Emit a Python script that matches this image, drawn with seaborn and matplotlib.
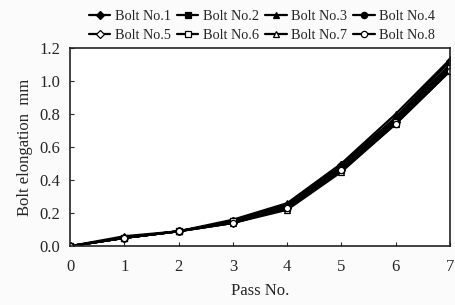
import matplotlib
matplotlib.use("Agg")
import matplotlib.pyplot as plt
import seaborn as sns
import pandas as pd

passes = [0, 1, 2, 3, 4, 5, 6, 7]
bolt1 = [0.0, 0.05, 0.09, 0.15, 0.25, 0.49, 0.78, 1.12]
bolt2 = [0.0, 0.05, 0.09, 0.15, 0.24, 0.48, 0.77, 1.10]
bolt3 = [0.0, 0.06, 0.09, 0.16, 0.26, 0.50, 0.80, 1.13]
bolt4 = [0.0, 0.05, 0.09, 0.15, 0.24, 0.47, 0.76, 1.09]
bolt5 = [0.0, 0.05, 0.09, 0.14, 0.23, 0.46, 0.75, 1.07]
bolt6 = [0.0, 0.05, 0.09, 0.15, 0.23, 0.46, 0.75, 1.08]
bolt7 = [0.0, 0.05, 0.09, 0.14, 0.22, 0.45, 0.74, 1.06]
bolt8 = [0.0, 0.05, 0.09, 0.14, 0.23, 0.46, 0.74, 1.06]
names = ["Bolt No.1", "Bolt No.2", "Bolt No.3", "Bolt No.4",
         "Bolt No.5", "Bolt No.6", "Bolt No.7", "Bolt No.8"]
series = [bolt1, bolt2, bolt3, bolt4, bolt5, bolt6, bolt7, bolt8]

sns.set_style("ticks")
plt.rcParams['font.family'] = ['Liberation Serif', 'DejaVu Serif']

fig = plt.figure(figsize=(4.55, 3.05), dpi=100)
fig.patch.set_facecolor("#fbfbfb")
ax = fig.add_axes([0.154, 0.193, 0.835, 0.65])
ax.set_facecolor("white")

markers = ["D", "s", "^", "o", "D", "s", "^", "o"]
fills = ["black"] * 4 + ["white"] * 4
sizes = [4.5, 4.5, 5, 4.5, 4.5, 4.5, 5, 4.5]

for name, vals, m, fc, ms in zip(names, series, markers, fills, sizes):
    df = pd.DataFrame({"Pass": passes, "Elong": vals})
    sns.lineplot(data=df, x="Pass", y="Elong", ax=ax, color="black",
                 marker=m, markersize=ms, markerfacecolor=fc,
                 markeredgecolor="black", markeredgewidth=0.9,
                 linewidth=1.6, label=name)

ax.set_xlim(0, 7)
ax.set_ylim(0, 1.2)
ax.set_xticks(range(0, 8))
ax.set_yticks([0.0, 0.2, 0.4, 0.6, 0.8, 1.0, 1.2])
ax.set_yticklabels(["0.0", "0.2", "0.4", "0.6", "0.8", "1.0", "1.2"])
ax.tick_params(direction="in", length=3, width=0.8, labelsize=12)
ax.tick_params(axis="x", pad=9)
ax.tick_params(axis="y", pad=7)
for s in ax.spines.values():
    s.set_linewidth(1.2)
    s.set_color("#222222")
ax.set_xlabel("Pass No.", fontsize=12, labelpad=6)
ax.set_ylabel("Bolt elongation  mm", fontsize=12, labelpad=5)

handles, labels = ax.get_legend_handles_labels()
order = [0, 4, 1, 5, 2, 6, 3, 7]
ax.legend([handles[i] for i in order], [labels[i] for i in order],
          loc="lower center", bbox_to_anchor=(0.505, 1.0), ncol=4,
          frameon=False, fontsize=10.3, handlelength=1.5, handletextpad=0.3,
          columnspacing=0.45, labelspacing=0.45, borderaxespad=0.0)

fig.savefig("out.png", dpi=100, facecolor=fig.get_facecolor())
